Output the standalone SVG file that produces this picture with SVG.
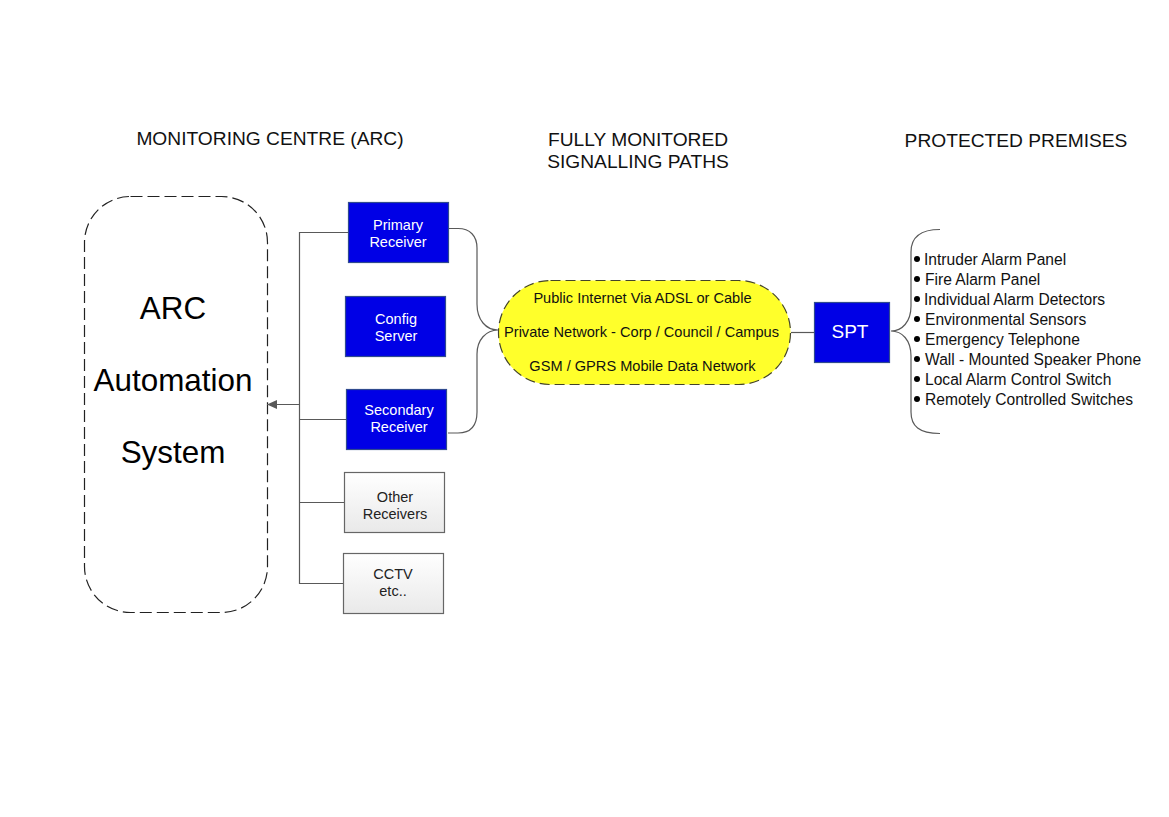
<svg xmlns="http://www.w3.org/2000/svg" width="1169" height="817" viewBox="0 0 1169 817">
<defs>
<linearGradient id="g" x1="0" y1="0" x2="0" y2="1"><stop offset="0" stop-color="#ffffff"/><stop offset="1" stop-color="#e9e9e9"/></linearGradient>
<marker id="arr" markerUnits="userSpaceOnUse" markerWidth="11" markerHeight="11" refX="10" refY="5.5" orient="auto"><path d="M0 1L10 5.500L0 10Z" fill="#595959"/></marker>
</defs>
<style>
text{font-family:"Liberation Sans",Arial,sans-serif;text-anchor:middle}
.c{fill:none;stroke:#595959;stroke-width:1.2}
.b{fill:#0000e6;stroke:#2f4a8f;stroke-width:1.2}
.g{fill:url(#g);stroke:#666;stroke-width:1.2}
.w{fill:#fff;font-size:14.5px}
.k{fill:#222;font-size:14.5px}
.h{fill:#111;font-size:19.2px}
.y{fill:#111;font-size:14.6px}
.l{fill:#111;font-size:15.6px;text-anchor:start}
.a{fill:#000;font-size:31.4px}
.d{fill:#000}
</style>
<rect width="1169" height="817" fill="#fff"/>
<g id="headings">
<text class="h" x="270" y="145">MONITORING CENTRE (ARC)</text>
<text class="h" x="638" y="146">FULLY MONITORED</text>
<text class="h" x="638" y="168">SIGNALLING PATHS</text>
<text class="h" x="1016" y="147">PROTECTED PREMISES</text>
</g>
<g id="arc"><rect x="84.500" y="196.500" width="183" height="416" rx="46" ry="46" fill="#fff" stroke="#222" stroke-width="1.2" stroke-dasharray="12 5"/>
<text class="a" x="173" y="319">ARC</text><text class="a" x="173" y="391">Automation</text><text class="a" x="173" y="463">System</text></g>
<g id="connectors">
<path class="c" d="M348 232.500H299.500V583.500H343"/>
<path class="c" d="M346 419.500H299.500"/>
<path class="c" d="M344 502.500H299.500"/>
<path class="c" d="M299.500 404.500H267" marker-end="url(#arr)"/>
<path class="c" d="M449 228.500H458C470 228.500 477 236 477 248V304C477 320 486 330 498 330C486 330 477 340 477 354V412C477 426 470 433 458 433H448"/>
<path class="c" d="M791 332.500H814"/>
<path class="c" d="M891 331C902 331 911 322 911 306V252C911 238 919 229.500 940 229.500M891 331C902 331 911 340 911 356V412C911 426 919 433.500 940 433.500"/>
</g>
<g id="primary"><rect class="b" x="348.500" y="202.500" width="100" height="60"/><text class="w" x="398" y="230">Primary</text><text class="w" x="398" y="247">Receiver</text></g>
<g id="config"><rect class="b" x="345.500" y="296.500" width="100" height="60"/><text class="w" x="396" y="324">Config</text><text class="w" x="396" y="341">Server</text></g>
<g id="secondary"><rect class="b" x="346.500" y="389.500" width="100" height="60"/><text class="w" x="399" y="415">Secondary</text><text class="w" x="399" y="432">Receiver</text></g>
<g id="other"><rect class="g" x="344.500" y="472.500" width="100" height="60"/><text class="k" x="395" y="502">Other</text><text class="k" x="395" y="519">Receivers</text></g>
<g id="cctv"><rect class="g" x="343.500" y="553.500" width="100" height="60"/><text class="k" x="393" y="579">CCTV</text><text class="k" x="393" y="596">etc..</text></g>
<g id="paths"><rect x="498.500" y="280.500" width="292" height="104" rx="52" ry="52" fill="#ffff2b" stroke="#44442a" stroke-width="1.2" stroke-dasharray="10 5"/>
<text class="y" x="642.500" y="302.500">Public Internet Via ADSL or Cable</text>
<text class="y" x="641.500" y="337">Private Network - Corp / Council / Campus</text>
<text class="y" x="642.500" y="371">GSM / GPRS Mobile Data Network</text></g>
<g id="spt"><rect class="b" x="814.500" y="302.500" width="75" height="60"/><text x="850" y="338" fill="#fff" font-size="19px">SPT</text></g>
<g id="premises">
<circle class="d" cx="917" cy="259" r="3"/><text class="l" x="924" y="265">Intruder Alarm Panel</text>
<circle class="d" cx="917" cy="279" r="3"/><text class="l" x="925" y="285">Fire Alarm Panel</text>
<circle class="d" cx="917" cy="299" r="3"/><text class="l" x="924" y="305">Individual Alarm Detectors</text>
<circle class="d" cx="917" cy="319" r="3"/><text class="l" x="925" y="325">Environmental Sensors</text>
<circle class="d" cx="917" cy="339" r="3"/><text class="l" x="925" y="345">Emergency Telephone</text>
<circle class="d" cx="917" cy="359" r="3"/><text class="l" x="925" y="365">Wall - Mounted Speaker Phone</text>
<circle class="d" cx="917" cy="379" r="3"/><text class="l" x="925" y="385">Local Alarm Control Switch</text>
<circle class="d" cx="917" cy="399" r="3"/><text class="l" x="925" y="405">Remotely Controlled Switches</text>
</g>
</svg>
